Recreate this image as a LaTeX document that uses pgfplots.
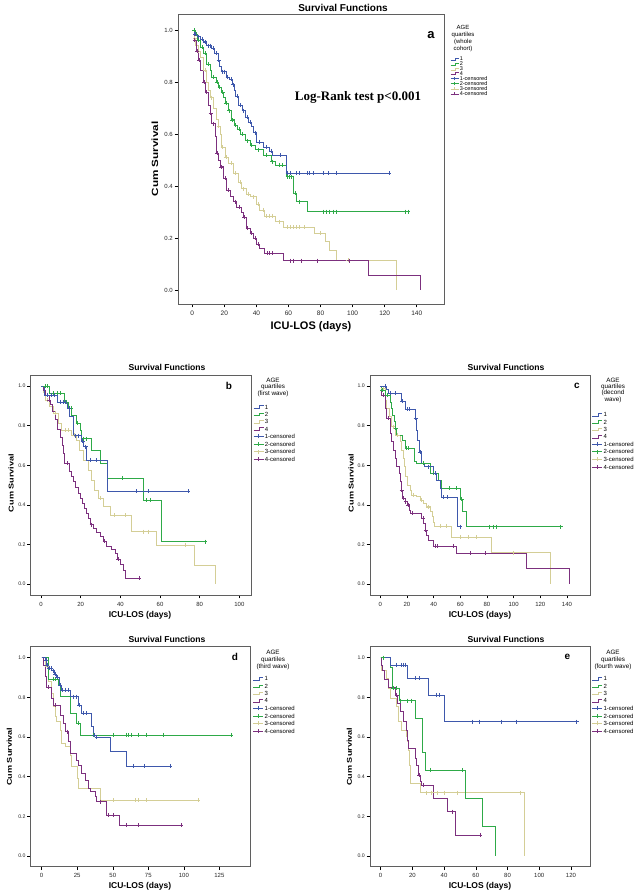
\documentclass[border=0pt]{standalone}
\usepackage{pgfplots}
\pgfplotsset{compat=1.18}
\usepackage{fontspec}
\setmainfont{Liberation Sans}
\newfontfamily\seriffont{Liberation Serif}
\definecolor{c1}{RGB}{62,88,172}
\definecolor{c2}{RGB}{46,170,72}
\definecolor{c3}{RGB}{212,206,150}
\definecolor{c4}{RGB}{124,48,126}
\definecolor{framec}{RGB}{95,95,95}
\pgfplotsset{
  panel/.style={scale only axis, anchor=south west,
    axis line style={draw=framec, line width=0.9pt},
    xtick pos=bottom, ytick pos=left, tick align=outside, major tick length=3.5pt,
    tick style={black, line width=0.5pt},
    ytick={0,0.2,0.4,0.6,0.8,1.0},
    yticklabel style={/pgf/number format/fixed, /pgf/number format/fixed zerofill, /pgf/number format/precision=1},
    /pgf/number format/assume math mode=true,
    ticklabel style={font=\fontsize{6}{6}\selectfont, text=black!85},
    yticklabel style={/tikz/font=\fontsize{5.2}{5.2}\selectfont, /tikz/inner sep=1.5pt},
    legend cell align=left,
    legend style={draw=none, fill=none, anchor=north west, inner sep=0pt, row sep=3pt, column sep=1pt,
       nodes={inner sep=0pt, text height=4.35pt, text depth=0pt, font=\fontsize{6}{6}\selectfont}},
  },
  km/.style={const plot, no marks, line width=0.6pt, forget plot},
  cens/.style={only marks, mark=+, mark size=2pt, mark options={line width=0.5pt}, forget plot},
  lstep/.style={legend image code/.code={\draw[#1, line width=0.6pt] (0pt,-1.3pt) -- (6pt,-1.3pt) -- (6pt,1.3pt) -- (10pt,1.3pt);}},
  lcens/.style={legend image code/.code={\draw[#1, line width=0.6pt] (0pt,0pt) -- (10pt,0pt) (5pt,-2pt) -- (5pt,2pt);}},
  lstepa/.style={legend image code/.code={\draw[#1, line width=0.5pt] (0pt,-1pt) -- (5pt,-1pt) -- (5pt,1pt) -- (8pt,1pt);}},
  lcensa/.style={legend image code/.code={\draw[#1, line width=0.5pt] (0pt,0pt) -- (8pt,0pt) (4pt,-1.6pt) -- (4pt,1.6pt);}},
}
\newcommand{\ttl}{\fontsize{8.6}{8.6}\selectfont\bfseries}
\newcommand{\lbl}{\fontsize{8.5}{8.5}\selectfont\bfseries}
\newcommand{\ylbl}{\fontsize{7}{7}\selectfont\bfseries}
\newcommand{\cumsurv}{\scalebox{1.3}[1]{Cum Survival}}
\begin{document}
\begin{tikzpicture}
\path[use as bounding box] (0,0) rectangle (640pt,895pt);

% ================= Panel a =================
\begin{axis}[panel, at={(178pt,591pt)}, width=266pt, height=290pt,
  xmin=-8.9, xmax=157, ymin=-0.054, ymax=1.062, xtick={0,20,...,140},
  ticklabel style={font=\fontsize{6.5}{6.5}\selectfont},
  yticklabel style={/tikz/font=\fontsize{6}{6}\selectfont},
  legend style={at={(1.023,0.851)}, row sep=1.35pt, nodes={text height=3.5pt, font=\fontsize{5.5}{5.5}\selectfont}}]
\addlegendimage{lstepa=c1}\addlegendentry{1}
\addlegendimage{lstepa=c2}\addlegendentry{2}
\addlegendimage{lstepa=c3}\addlegendentry{3}
\addlegendimage{lstepa=c4}\addlegendentry{4}
\addlegendimage{lcensa=c1}\addlegendentry{1-censored}
\addlegendimage{lcensa=c2}\addlegendentry{2-censored}
\addlegendimage{lcensa=c3}\addlegendentry{3-censored}
\addlegendimage{lcensa=c4}\addlegendentry{4-censored}
\addplot[km, c3] coordinates {(0,1.0) (1,0.97) (2,0.94) (3.5,0.92) (5,0.897) (7,0.846) (9,0.80) (10,0.77) (11,0.74) (13,0.70) (15,0.655) (16,0.63) (17.3,0.60) (18.4,0.55) (20.4,0.51) (22.5,0.487) (25.6,0.45) (28.8,0.415) (30.8,0.39) (33.9,0.37) (36,0.359) (40,0.33) (42,0.308) (45,0.285) (52,0.263) (57,0.241) (76,0.218) (82.7,0.186) (85.5,0.154) (89.7,0.115) (127.5,0)};
\addplot[cens, c3] coordinates {(1.5,0.97) (4,0.92) (8,0.846) (12,0.74) (16.5,0.63) (19,0.55) (21,0.51) (24,0.487) (27,0.45) (30,0.415) (32,0.39) (35,0.37) (38,0.359) (41,0.33) (44,0.308) (46,0.285) (48,0.285) (50,0.285) (54,0.263) (59,0.241) (61,0.241) (63,0.241) (65,0.241) (67,0.241) (70,0.241) (80,0.218) (97,0.115)};
\addplot[km, c4] coordinates {(0,1.0) (1,0.96) (2.5,0.92) (3.8,0.885) (5,0.846) (6.9,0.80) (8,0.76) (10,0.71) (11,0.68) (12,0.64) (14.2,0.59) (15.2,0.526) (16.3,0.50) (17.3,0.474) (19.4,0.43) (21.5,0.385) (23.6,0.36) (25.6,0.34) (27.7,0.32) (30.8,0.30) (31.8,0.28) (33.9,0.237) (36,0.218) (38,0.20) (40,0.175) (42,0.16) (45,0.141) (56.8,0.113) (109.8,0.055) (142,0)};
\addplot[cens, c4] coordinates {(1.5,0.96) (3,0.92) (4.5,0.885) (7.5,0.80) (9,0.76) (11.5,0.68) (13,0.64) (15.5,0.526) (18,0.474) (20.5,0.43) (22.5,0.385) (26.5,0.34) (29,0.32) (32.5,0.28) (34.5,0.237) (37,0.218) (39,0.20) (41,0.175) (46.5,0.141) (48,0.141) (50,0.141) (61,0.113) (63,0.113) (68,0.113) (78,0.113) (98,0.113)};
\addplot[km, c2] coordinates {(0,1.0) (2,0.985) (3,0.96) (5,0.935) (7,0.91) (9,0.87) (11,0.846) (12,0.82) (15,0.8) (16.5,0.78) (18,0.76) (19.5,0.74) (20.5,0.72) (22.5,0.69) (24.5,0.655) (26.5,0.635) (28,0.62) (30,0.60) (33,0.575) (36,0.556) (39,0.54) (44,0.519) (49,0.494) (52,0.481) (58.5,0.436) (63,0.372) (64.6,0.34) (72,0.301) (134.8,0.301)};
\addplot[cens, c2] coordinates {(1,1.0) (2.5,0.985) (4,0.96) (6,0.935) (8,0.91) (10,0.87) (13,0.82) (15.5,0.8) (17,0.78) (19,0.76) (21,0.72) (23,0.69) (25,0.655) (27,0.635) (29,0.62) (31,0.60) (34,0.575) (37,0.556) (41,0.54) (46,0.519) (50,0.494) (54,0.481) (56,0.481) (59.5,0.436) (60.5,0.436) (61.5,0.436) (64,0.372) (67,0.34) (81.5,0.301) (83.5,0.301) (85.6,0.301) (87.7,0.301) (89.8,0.301) (132.7,0.301) (134.8,0.301)};
\addplot[km, c1] coordinates {(0,1.0) (1,0.985) (3,0.975) (5,0.965) (7,0.955) (9,0.94) (12,0.93) (14,0.91) (16,0.885) (17,0.86) (18,0.84) (21,0.82) (23,0.81) (25,0.79) (26,0.77) (27,0.745) (29,0.71) (31,0.69) (33,0.665) (35,0.645) (37,0.63) (38,0.605) (40,0.57) (44.5,0.55) (48,0.535) (50,0.519) (58.5,0.45) (123,0.45)};
\addplot[cens, c1] coordinates {(2,0.985) (4,0.975) (6,0.965) (8,0.955) (10,0.94) (11,0.94) (13,0.93) (15,0.91) (16.5,0.885) (19,0.84) (20,0.84) (22,0.82) (24,0.81) (25.5,0.79) (28,0.745) (30,0.71) (32,0.69) (34,0.665) (36,0.645) (39,0.605) (42,0.57) (46,0.55) (49,0.535) (55,0.519) (59.5,0.45) (61,0.45) (65,0.45) (67,0.45) (72,0.45) (73,0.45) (75.5,0.45) (82,0.45) (85,0.45) (90,0.45) (123,0.45)};
\end{axis}
\node[font=\fontsize{10}{10}\selectfont\bfseries] at (343pt,895pt-7.5pt) {Survival Functions};
\node[font=\fontsize{11}{11}\selectfont\bfseries] at (311pt,895pt-327pt) {ICU-LOS (days)};
\node[font=\fontsize{9}{9}\selectfont\bfseries, rotate=90] at (155pt,895pt-159pt) {\scalebox{1.3}[1]{Cum Survival}};
\node[font=\fontsize{13}{13}\selectfont\bfseries] at (431pt,895pt-35pt) {a};
\node[font=\fontsize{13}{13}\selectfont\seriffont\bfseries] at (358pt,895pt-97pt) {Log-Rank test p<0.001};
\node[align=center, font=\fontsize{6}{7}\selectfont] at (463pt,895pt-38.5pt) {AGE\\quartiles\\(whole\\cohort)};

% ================= Panel b =================
\begin{axis}[panel, at={(30.7pt,300pt)}, width=221pt, height=220pt,
  xmin=-5.2, xmax=106.2, ymin=-0.056, ymax=1.056, xtick={0,20,...,100},
  legend style={at={(1.006,0.866)}}]
\addlegendimage{lstep=c1}\addlegendentry{1}
\addlegendimage{lstep=c2}\addlegendentry{2}
\addlegendimage{lstep=c3}\addlegendentry{3}
\addlegendimage{lstep=c4}\addlegendentry{4}
\addlegendimage{lcens=c1}\addlegendentry{1-censored}
\addlegendimage{lcens=c2}\addlegendentry{2-censored}
\addlegendimage{lcens=c3}\addlegendentry{3-censored}
\addlegendimage{lcens=c4}\addlegendentry{4-censored}
\addplot[km, c3] coordinates {(0,1.0) (1,0.97) (2,0.93) (4.4,0.9) (6.1,0.862) (8.6,0.811) (10.3,0.777) (15.3,0.752) (17.8,0.727) (19.5,0.677) (21.2,0.626) (23.7,0.576) (25.4,0.525) (26.7,0.475) (28.7,0.433) (31.3,0.39) (35,0.348) (45.7,0.264) (58.3,0.197) (77.3,0.096) (87.7,0)};
\addplot[cens, c3] coordinates {(3,0.93) (7,0.862) (12,0.777) (13.5,0.777) (16.5,0.752) (30,0.433) (37,0.348) (42.4,0.348) (51.6,0.264) (54,0.264) (72.6,0.197)};
\addplot[km, c4] coordinates {(0,1.0) (1,0.98) (2,0.955) (4,0.93) (4.5,0.91) (5.5,0.87) (7,0.83) (8,0.78) (9.5,0.74) (10.5,0.70) (11,0.66) (11.5,0.61) (14.5,0.57) (15.5,0.545) (16.5,0.52) (17.5,0.49) (19,0.46) (20,0.435) (21,0.41) (22,0.38) (23,0.355) (24,0.33) (25,0.30) (26.5,0.28) (28,0.26) (30,0.24) (31.5,0.215) (33,0.19) (35.5,0.175) (37.5,0.155) (38.5,0.125) (40,0.1) (41.5,0.07) (42.5,0.03) (49.5,0.03)};
\addplot[cens, c4] coordinates {(3,0.955) (4.2,0.93) (13,0.61) (25.5,0.30) (32,0.215) (39,0.125) (49.5,0.03)};
\addplot[km, c2] coordinates {(0,1.0) (4.4,0.963) (11.5,0.92) (14,0.887) (15.4,0.853) (17.9,0.811) (19.6,0.777) (20.5,0.735) (25.3,0.677) (29.7,0.609) (33.5,0.533) (51.6,0.424) (60.8,0.214) (82.7,0.214)};
\addplot[cens, c2] coordinates {(2,1.0) (3,1.0) (6,0.963) (8,0.963) (9.5,0.963) (12.5,0.92) (15,0.887) (18.5,0.811) (21.5,0.735) (23,0.735) (41,0.533) (53,0.424) (55,0.424) (82.7,0.214)};
\addplot[km, c1] coordinates {(0,1.0) (1.5,0.955) (8,0.92) (13.5,0.887) (14.5,0.845) (16.5,0.75) (20.5,0.72) (21.5,0.694) (23,0.626) (33.5,0.468) (74,0.468)};
\addplot[cens, c1] coordinates {(3,0.955) (5,0.955) (6.5,0.955) (9.5,0.92) (11,0.92) (12,0.92) (14,0.887) (17.5,0.75) (19,0.75) (21,0.72) (22.5,0.694) (25,0.626) (28,0.626) (48.2,0.468) (54,0.468) (74,0.468)};
\end{axis}
\node[font=\ttl] at (167pt,895pt-367.7pt) {Survival Functions};
\node[font=\lbl] at (140pt,895pt-615pt) {ICU-LOS (days)};
\node[font=\ylbl, rotate=90] at (11pt,895pt-483pt) {\cumsurv};
\node[font=\fontsize{10}{10}\selectfont\bfseries] at (229pt,895pt-386pt) {b};
\node[align=center, font=\fontsize{6.3}{5.8}\selectfont] at (273pt,895pt-387.5pt) {AGE\\quartiles\\(first wave)};

% ================= Panel c =================
\begin{axis}[panel, at={(370pt,300pt)}, width=220.7pt, height=220pt,
  xmin=-7.7, xmax=157.8, ymin=-0.056, ymax=1.056, xtick={0,20,...,140},
  legend style={at={(1.005,0.831)}}]
\addlegendimage{lstep=c1}\addlegendentry{1}
\addlegendimage{lstep=c2}\addlegendentry{2}
\addlegendimage{lstep=c3}\addlegendentry{3}
\addlegendimage{lstep=c4}\addlegendentry{4}
\addlegendimage{lcens=c1}\addlegendentry{1-censored}
\addlegendimage{lcens=c2}\addlegendentry{2-censored}
\addlegendimage{lcens=c3}\addlegendentry{3-censored}
\addlegendimage{lcens=c4}\addlegendentry{4-censored}
\addplot[km, c3] coordinates {(0,1.0) (1,0.99) (3.5,0.93) (4.75,0.887) (6.75,0.845) (8.5,0.795) (11,0.752) (14.75,0.719) (16,0.677) (17.25,0.635) (17.9,0.593) (18.5,0.542) (20.25,0.5) (22.25,0.475) (23.5,0.45) (27.25,0.441) (29.75,0.424) (32.25,0.41) (34.75,0.39) (37.25,0.365) (38.75,0.34) (39.75,0.31) (40.5,0.293) (53.5,0.236) (83,0.158) (127.25,0)};
\addplot[cens, c3] coordinates {(2,0.99) (10,0.795) (13,0.752) (25,0.45) (31,0.424) (36,0.39) (44.75,0.293) (49.75,0.293) (59.75,0.236) (66,0.236) (72.25,0.236) (99.75,0.158)};
\addplot[km, c4] coordinates {(0,1.0) (1,0.955) (3.5,0.887) (4.75,0.837) (7.25,0.795) (7.75,0.761) (8.5,0.719) (9.75,0.677) (11,0.635) (12.25,0.593) (14.25,0.559) (14.75,0.517) (15.5,0.475) (16.75,0.433) (18.5,0.416) (20.25,0.4) (21.75,0.374) (22.75,0.357) (31,0.332) (32.25,0.306) (33.5,0.273) (34.75,0.247) (36,0.222) (39.75,0.192) (57.25,0.155) (109.75,0.077) (141.75,0)};
\addplot[cens, c4] coordinates {(2,0.955) (6,0.837) (16,0.475) (17.5,0.433) (19,0.416) (20.75,0.4) (24,0.357) (32,0.332) (34,0.273) (41,0.192) (43,0.192) (54.75,0.192) (67.75,0.155) (79,0.155)};
\addplot[km, c2] coordinates {(0,1.0) (1,0.98) (3.5,0.955) (7.25,0.92) (8.5,0.887) (9.25,0.853) (10.25,0.82) (11,0.786) (12.25,0.752) (16.75,0.727) (18.5,0.685) (25.5,0.618) (27.25,0.609) (37.25,0.559) (43.5,0.525) (46,0.483) (59.75,0.428) (61.75,0.365) (64.75,0.29) (135.25,0.29)};
\addplot[cens, c2] coordinates {(1.5,0.98) (5,0.955) (11.5,0.786) (19.75,0.685) (21,0.685) (32,0.609) (39.75,0.559) (52,0.483) (57,0.483) (61,0.428) (82,0.29) (84.75,0.29) (87.25,0.29) (135.25,0.29)};
\addplot[km, c1] coordinates {(0,1.0) (4.75,0.983) (6,0.963) (16,0.924) (18.5,0.884) (26,0.837) (27,0.778) (28,0.727) (29.25,0.668) (31,0.609) (33,0.593) (39.75,0.559) (42.25,0.525) (44.75,0.483) (46,0.438) (57.5,0.29) (61,0.29)};
\addplot[cens, c1] coordinates {(3.5,1.0) (7.25,0.963) (11,0.963) (16.5,0.924) (20,0.884) (22,0.884) (26.5,0.837) (30,0.668) (36,0.593) (41,0.559) (47,0.438) (50.5,0.438) (60,0.29)};
\end{axis}
\node[font=\ttl] at (506pt,895pt-367.7pt) {Survival Functions};
\node[font=\lbl] at (480pt,895pt-615pt) {ICU-LOS (days)};
\node[font=\ylbl, rotate=90] at (351pt,895pt-483pt) {\cumsurv};
\node[font=\fontsize{10}{10}\selectfont\bfseries] at (577pt,895pt-386pt) {c};
\node[align=center, font=\fontsize{6.3}{5.8}\selectfont] at (613pt,895pt-390.5pt) {AGE\\quartiles\\(decond\\wave)};

% ================= Panel d =================
\begin{axis}[panel, at={(30.7pt,28.3pt)}, width=220pt, height=220pt,
  xmin=-7.7, xmax=147, ymin=-0.054, ymax=1.055, xtick={0,25,...,125},
  legend style={at={(1.01,0.865)}}]
\addlegendimage{lstep=c1}\addlegendentry{1}
\addlegendimage{lstep=c2}\addlegendentry{2}
\addlegendimage{lstep=c3}\addlegendentry{3}
\addlegendimage{lstep=c4}\addlegendentry{4}
\addlegendimage{lcens=c1}\addlegendentry{1-censored}
\addlegendimage{lcens=c2}\addlegendentry{2-censored}
\addlegendimage{lcens=c3}\addlegendentry{3-censored}
\addlegendimage{lcens=c4}\addlegendentry{4-censored}
\addplot[km, c3] coordinates {(0,1.0) (2.3,0.955) (4.7,0.879) (7,0.82) (8.2,0.753) (9.4,0.703) (10.6,0.677) (12.9,0.635) (14.1,0.568) (16.4,0.551) (19.9,0.509) (21.1,0.45) (24.9,0.392) (25.8,0.341) (41,0.282) (110.2,0.282)};
\addplot[cens, c3] coordinates {(4,0.955) (50.4,0.282) (65.5,0.282) (68,0.282) (73.9,0.282) (110.2,0.282)};
\addplot[km, c4] coordinates {(0,1.0) (1.2,0.963) (2.3,0.904) (3.5,0.85) (7,0.795) (8.2,0.761) (12.9,0.711) (15.2,0.669) (16.4,0.627) (18.8,0.576) (19.9,0.518) (24.2,0.484) (25.8,0.459) (28.1,0.417) (30.5,0.383) (32.8,0.341) (34.5,0.324) (37.5,0.3) (38.7,0.274) (45.3,0.24) (45.7,0.207) (54.6,0.156) (98,0.156)};
\addplot[cens, c4] coordinates {(4.7,0.85) (9.4,0.761) (18,0.627) (41,0.274) (46.9,0.207) (50.4,0.207) (59.8,0.156) (68,0.156) (98,0.156)};
\addplot[km, c2] coordinates {(0,1.0) (4.7,0.89) (11.7,0.862) (12.9,0.803) (20.4,0.72) (24.6,0.669) (27,0.61) (133.2,0.61)};
\addplot[cens, c2] coordinates {(8.2,0.89) (9.5,0.89) (25.8,0.669) (36.4,0.61) (50.4,0.61) (59.8,0.61) (61,0.61) (63.3,0.61) (68,0.61) (73.9,0.61) (85.6,0.61) (133.2,0.61)};
\addplot[km, c1] coordinates {(0,1.0) (2.3,0.988) (3.5,0.963) (4.7,0.946) (7,0.934) (8.7,0.918) (10.6,0.9) (12.4,0.862) (14.1,0.837) (20.4,0.803) (25.8,0.761) (28.1,0.72) (35.2,0.652) (36.4,0.61) (38.2,0.6) (48.1,0.526) (59.8,0.454) (90.3,0.454)};
\addplot[cens, c1] coordinates {(3,0.988) (4,0.963) (5.5,0.946) (6.5,0.946) (8,0.934) (9.5,0.918) (11,0.9) (13,0.862) (14.5,0.837) (16.4,0.837) (18.8,0.837) (22.3,0.803) (24.6,0.803) (26.3,0.761) (29.3,0.72) (31.7,0.72) (37,0.61) (38.7,0.6) (64.5,0.454) (72,0.454) (90.3,0.454)};
\end{axis}
\node[font=\ttl] at (167pt,895pt-639.3pt) {Survival Functions};
\node[font=\lbl] at (140pt,895pt-886.7pt) {ICU-LOS (days)};
\node[font=\ylbl, rotate=90] at (9.3pt,895pt-756.7pt) {\cumsurv};
\node[font=\fontsize{10}{10}\selectfont\bfseries] at (235pt,895pt-657pt) {d};
\node[align=center, font=\fontsize{6.3}{7}\selectfont] at (273pt,895pt-660.3pt) {AGE\\quartiles\\(third wave)};

% ================= Panel e =================
\begin{axis}[panel, at={(370pt,28.3pt)}, width=220pt, height=220pt,
  xmin=-6.7, xmax=132, ymin=-0.054, ymax=1.055, xtick={0,20,...,120},
  legend style={at={(1.008,0.865)}}]
\addlegendimage{lstep=c1}\addlegendentry{1}
\addlegendimage{lstep=c2}\addlegendentry{2}
\addlegendimage{lstep=c3}\addlegendentry{3}
\addlegendimage{lstep=c4}\addlegendentry{4}
\addlegendimage{lcens=c1}\addlegendentry{1-censored}
\addlegendimage{lcens=c2}\addlegendentry{2-censored}
\addlegendimage{lcens=c3}\addlegendentry{3-censored}
\addlegendimage{lcens=c4}\addlegendentry{4-censored}
\addplot[km, c3] coordinates {(0,1.0) (0.6,0.938) (3.3,0.896) (4.8,0.845) (6.3,0.795) (9.6,0.753) (11.3,0.677) (13.2,0.635) (16,0.602) (16.8,0.576) (17.4,0.534) (18,0.459) (18.9,0.366) (24.8,0.319) (90.4,0)};
\addplot[cens, c3] coordinates {(28.6,0.319) (32.1,0.319) (35.7,0.319) (39.9,0.319) (48.3,0.319) (87.8,0.319)};
\addplot[km, c4] coordinates {(0,1.0) (0.6,0.963) (1.2,0.938) (2.1,0.89) (4.8,0.85) (9,0.812) (10.7,0.77) (12.2,0.728) (14,0.677) (16,0.635) (16.8,0.585) (17.4,0.543) (22,0.492) (22.6,0.459) (23.7,0.408) (24.8,0.375) (25.8,0.358) (33.2,0.291) (42,0.224) (46.8,0.106) (62.6,0.106)};
\addplot[cens, c4] coordinates {(10.1,0.812) (24.3,0.408) (27,0.358) (45.4,0.224) (62.6,0.106)};
\addplot[km, c2] coordinates {(0,1.0) (5.9,0.95) (7.6,0.845) (11.5,0.783) (22,0.694) (26.5,0.521) (28,0.434) (53.2,0.291) (64.3,0.148) (72.5,0)};
\addplot[cens, c2] coordinates {(1.7,1.0) (8,0.845) (9.7,0.845) (12.6,0.783) (17,0.783) (19.1,0.783) (31.1,0.434) (51.7,0.434)};
\addplot[km, c1] coordinates {(0,1.0) (5.9,0.963) (17,0.896) (30,0.812) (40,0.677) (123.6,0.677)};
\addplot[cens, c1] coordinates {(10,0.963) (13.2,0.963) (14.3,0.963) (15.3,0.963) (21.6,0.896) (24.4,0.896) (35.3,0.812) (37,0.812) (58,0.677) (62.2,0.677) (76.3,0.677) (85.3,0.677) (123.6,0.677)};
\end{axis}
\node[font=\ttl] at (506pt,895pt-639.3pt) {Survival Functions};
\node[font=\lbl] at (480pt,895pt-886.7pt) {ICU-LOS (days)};
\node[font=\ylbl, rotate=90] at (349.3pt,895pt-756.7pt) {\cumsurv};
\node[font=\fontsize{10}{10}\selectfont\bfseries] at (567.3pt,895pt-657pt) {e};
\node[align=center, font=\fontsize{6.3}{7}\selectfont] at (613pt,895pt-660.3pt) {AGE\\quartiles\\(fourth wave)};
\end{tikzpicture}
\end{document}
